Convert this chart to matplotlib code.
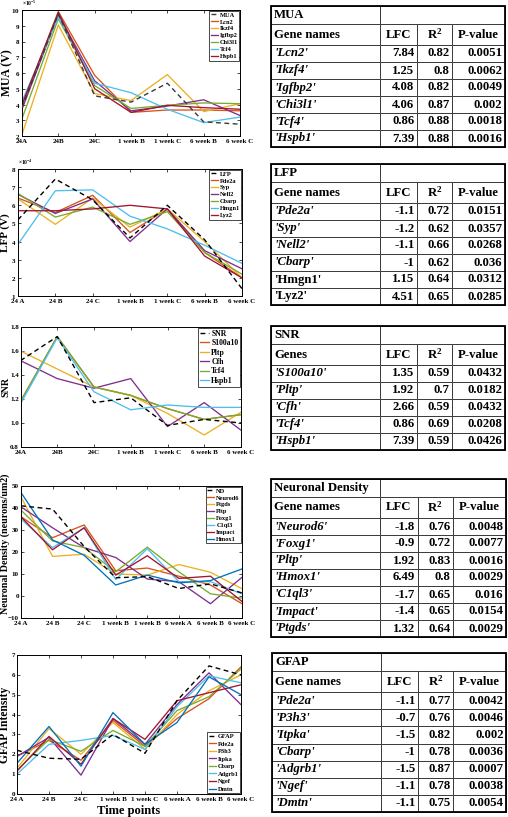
import matplotlib
matplotlib.use('Agg')
import matplotlib.pyplot as plt
from matplotlib.ticker import ScalarFormatter
from matplotlib.patches import Rectangle

plt.rcParams['font.family'] = ['Liberation Serif', 'DejaVu Serif']
plt.rcParams['font.weight'] = 'bold'
plt.rcParams['mathtext.fontset'] = 'custom'
plt.rcParams['mathtext.rm'] = 'Liberation Serif:bold'
plt.rcParams['mathtext.bf'] = 'Liberation Serif:bold'
plt.rcParams['mathtext.it'] = 'Liberation Serif:bold:italic'

# MATLAB default colours
BLUE, ORANGE, YELLOW, PURPLE = '#0072BD', '#D95319', '#EDB120', '#7E2F8E'
GREEN, CYAN, DRED = '#77AC30', '#4DBEEE', '#A2142F'

# ---------------- data : MUA (x1e-5 V) ----------------
mua_x = ['24A', '24B', '24C', '1 week B', '1 week C', '6 week B', '6 week C']
mua_names = ['MUA', 'Lcn2', 'Ikzf4', 'Igfbp2', 'Chi3l1', 'Tcf4', 'Hspb1']
mua_MUA = [3.8, 9.75, 4.55, 4.15, 5.35, 2.9, 2.75]
mua_Lcn2 = [3.9, 9.9, 5.85, 3.5, 3.65, 3.65, 3.6]
mua_Ikzf4 = [2.1, 9.05, 4.7, 4.25, 5.9, 3.55, 4.05]
mua_Igfbp2 = [3.7, 9.7, 5.5, 3.6, 3.9, 4.3, 3.3]
mua_Chi3l1 = [3.1, 9.45, 5.2, 3.75, 3.95, 4.1, 4.05]
mua_Tcf4 = [4.2, 9.55, 5.35, 4.75, 3.7, 2.85, 3.2]
mua_Hspb1 = [4.0, 9.85, 5.0, 3.5, 3.95, 3.8, 3.7]

# ---------------- data : LFP (x1e-4 V) ----------------
lfp_x = ['24 A', '24 B', '24 C', '1 week B', '1 week C', '6 week B', '6 week C']
lfp_names = ['LFP', 'Pde2a', 'Syp', 'Nell2', 'Cbarp', 'Hmgn1', 'Lyz2']
lfp_LFP = [5.2, 7.45, 6.3, 4.2, 6.0, 4.1, 1.4]
lfp_Pde2a = [6.4, 5.6, 6.55, 4.5, 5.8, 3.4, 2.0]
lfp_Syp = [6.35, 4.95, 6.4, 4.8, 5.8, 4.0, 2.0]
lfp_Nell2 = [6.6, 5.55, 6.35, 4.0, 5.8, 3.5, 2.5]
lfp_Cbarp = [6.65, 5.35, 5.9, 4.95, 5.65, 3.4, 2.2]
lfp_Hmgn1 = [3.85, 6.8, 6.85, 5.4, 4.7, 3.8, 2.8]
lfp_Lyz2 = [5.7, 5.7, 5.8, 6.0, 5.8, 3.2, 2.0]

# ---------------- data : SNR ----------------
snr_x = ['24A', '24B', '24C', '1 week B', '1 week C', '6 week B', '6 week C']
snr_names = ['SNR', 'S100a10', 'Pltp', 'Cfh', 'Tcf4', 'Hspb1']
snr_SNR = [1.52, 1.72, 1.17, 1.21, 0.98, 1.03, 1.0]
snr_S100a10 = [1.18, 1.72, 1.3, 1.23, 1.12, 1.03, 1.07]
snr_Pltp = [1.6, 1.45, 1.3, 1.23, 1.08, 0.9, 1.09]
snr_Cfh = [1.52, 1.37, 1.29, 1.37, 0.97, 1.17, 0.94]
snr_Tcf4 = [1.18, 1.72, 1.3, 1.23, 1.12, 1.03, 1.07]
snr_Hspb1 = [1.16, 1.71, 1.26, 1.11, 1.15, 1.13, 1.13]

# ---------------- data : Neuronal density ----------------
nd_x = ['24 A', '24 B', '24 C', '1 week B', '1 week B', '6 week A', '6 week B', '6 week C']
nd_names = ['ND', 'Neurod6', 'Ptgds', 'Pltp', 'Foxg1', 'C1ql3', 'Impact', 'Hmox1']
nd_ND = [41, 39.5, 22.5, 8.3, 8.8, 3.4, 5.5, 1.4]
nd_Neurod6 = [36, 26.5, 32.3, 11.5, 12.7, 9, 5, -3.5]
nd_Ptgds = [45, 18, 19, 10, 9.5, 14.3, 10.8, 3.3]
nd_Pltp = [40.5, 31, 22, 17.5, 7.7, 6.5, -3.5, 8.5]
nd_Foxg1 = [39, 25, 22, 11, 22.2, 11, 1, -1]
nd_C1ql3 = [35, 22, 31, 7.5, 21.5, 6.5, 6.5, 1]
nd_Impact = [36, 21, 31, 9.5, 18.3, 8, 9, -2.5]
nd_Hmox1 = [47, 25.5, 18.5, 5, 9.5, 6, 7, 12.3]

# ---------------- data : GFAP ----------------
gf_x = ['24 A', '24 B', '24 C', '1 week B', '1 week C', '6 week A', '6 week B', '6 week C']
gf_names = ['GFAP', 'Pde2a', 'P3h3', 'Itpka', 'Cbarp', 'Adgrb1', 'Ngef', 'Dmtn']
gf_GFAP = [2.2, 1.8, 1.75, 3.0, 2.05, 4.7, 6.45, 6.0]
gf_Pde2a = [1.9, 2.7, 1.7, 3.7, 2.4, 3.8, 4.8, 6.4]
gf_P3h3 = [1.3, 3.3, 2.0, 3.6, 2.25, 4.0, 5.2, 6.0]
gf_Itpka = [1.9, 2.85, 0.95, 3.8, 2.5, 4.5, 6.1, 4.5]
gf_Cbarp = [1.2, 2.75, 2.15, 3.2, 2.4, 4.2, 4.9, 6.3]
gf_Adgrb1 = [1.0, 2.5, 2.7, 2.95, 2.25, 4.4, 5.95, 5.6]
gf_Ngef = [1.15, 2.9, 1.5, 3.8, 2.75, 4.7, 5.1, 5.5]
gf_Dmtn = [1.55, 3.4, 1.4, 4.1, 2.5, 3.6, 5.9, 5.0]

# ---------------- table data ----------------
t_mua_genes = ['Lcn2', 'Ikzf4', 'Igfbp2', 'Chi3l1', 'Tcf4', 'Hspb1']
t_mua_lfc = [7.84, 1.25, 4.08, 4.06, 0.86, 7.39]
t_mua_r2 = [0.82, 0.8, 0.82, 0.87, 0.88, 0.88]
t_mua_p = [0.0051, 0.0062, 0.0049, 0.002, 0.0018, 0.0016]

t_lfp_genes = ['Pde2a', 'Syp', 'Nell2', 'Cbarp', 'Hmgn1', 'Lyz2']
t_lfp_lfc = [-1.1, -1.2, -1.1, -1, 1.15, 4.51]
t_lfp_r2 = [0.72, 0.62, 0.66, 0.62, 0.64, 0.65]
t_lfp_p = [0.0151, 0.0357, 0.0268, 0.036, 0.0312, 0.0285]
t_lfp_italic = [True, True, True, True, False, False]

t_snr_genes = ['S100a10', 'Pltp', 'Cfh', 'Tcf4', 'Hspb1']
t_snr_lfc = [1.35, 1.92, 2.66, 0.86, 7.39]
t_snr_r2 = [0.59, 0.7, 0.59, 0.69, 0.59]
t_snr_p = [0.0432, 0.0182, 0.0432, 0.0208, 0.0426]

t_nd_genes = ['Neurod6', 'Foxg1', 'Pltp', 'Hmox1', 'C1ql3', 'Impact', 'Ptgds']
t_nd_lfc = [-1.8, -0.9, 1.92, 6.49, -1.7, -1.4, 1.32]
t_nd_r2 = [0.76, 0.72, 0.83, 0.8, 0.65, 0.65, 0.64]
t_nd_p = [0.0048, 0.0077, 0.0016, 0.0029, 0.016, 0.0154, 0.0029]

t_gf_genes = ['Pde2a', 'P3h3', 'Itpka', 'Cbarp', 'Adgrb1', 'Ngef', 'Dmtn']
t_gf_lfc = [-1.1, -0.7, -1.5, -1, -1.5, -1.1, -1.1]
t_gf_r2 = [0.77, 0.76, 0.82, 0.78, 0.87, 0.78, 0.75]
t_gf_p = [0.0042, 0.0046, 0.002, 0.0036, 0.0007, 0.0038, 0.0054]

W, H = 508, 817
fig = plt.figure(figsize=(W / 100, H / 100), dpi=100)


def px_axes(l, t, r, b):
    return fig.add_axes([l / W, 1 - b / H, (r - l) / W, (b - t) / H])


def line_panel(box, xlabels, names, series, colors, ylim, yticks, ylabel,
               leg_loc, leg_fs, leg_sp, label_x, label_fs=8.5, label_y=0.5,
               scale=1.0, power=None, xlabel=None, dash_color='black', ypad=1.5):
    ax = px_axes(*box)
    l, t, r, b = box
    x = list(range(len(xlabels)))
    for i, (nm, ys, c) in enumerate(zip(names, series, colors)):
        vals = [v * scale for v in ys]
        if i == 0:
            ax.plot(x, vals, color=dash_color, lw=1.0, ls=(0, (3.5, 2.5)), label=nm, zorder=3)
        else:
            ax.plot(x, vals, color=c, lw=0.95, label=nm, zorder=2)
    ax.set_xlim(0, len(xlabels) - 1)
    ax.set_ylim(ylim[0] * scale, ylim[1] * scale)
    ax.set_xticks(x)
    ax.set_xticklabels(xlabels)
    ax.set_yticks([v * scale for v in yticks])
    if power is not None:
        fmt = ScalarFormatter(useMathText=True)
        fmt.set_powerlimits((power, power))
        ax.yaxis.set_major_formatter(fmt)
        ax.yaxis.get_offset_text().set_fontsize(4.0)
        ax.yaxis.get_offset_text().set_fontweight('bold')
    ax.tick_params(direction='in', top=True, right=True, length=2, width=0.5,
                   labelsize=5)
    ax.tick_params(axis='x', pad=2.5)
    ax.tick_params(axis='y', pad=ypad)
    for lab in ax.get_xticklabels() + ax.get_yticklabels():
        lab.set_fontweight('bold')
    for sp in ax.spines.values():
        sp.set_linewidth(0.7)
    ax.set_ylabel(ylabel, fontsize=label_fs, fontweight='bold')
    ax.yaxis.set_label_coords((label_x - l) / (r - l), label_y)
    if xlabel:
        ax.set_xlabel(xlabel, fontsize=9, fontweight='bold', labelpad=2.0)
    leg = ax.legend(loc=leg_loc, frameon=True, fancybox=False,
                    edgecolor='black', framealpha=1, borderaxespad=0.1,
                    handlelength=1.1, handletextpad=0.3, labelspacing=leg_sp,
                    borderpad=0.25, prop={'weight': 'bold', 'size': leg_fs})
    leg.get_frame().set_linewidth(0.5)
    return ax


line_panel((22, 10, 240, 136), mua_x, mua_names,
           [mua_MUA, mua_Lcn2, mua_Ikzf4, mua_Igfbp2, mua_Chi3l1, mua_Tcf4, mua_Hspb1],
           [None, ORANGE, YELLOW, PURPLE, GREEN, CYAN, DRED],
           (2, 10), list(range(2, 11)), 'MUA (V)', 'upper right', 4.6, 0.22,
           label_x=13.0, scale=1e-5, power=-5, dash_color='#3a3a3a')

line_panel((18, 169, 242, 296), lfp_x, lfp_names,
           [lfp_LFP, lfp_Pde2a, lfp_Syp, lfp_Nell2, lfp_Cbarp, lfp_Hmgn1, lfp_Lyz2],
           [None, ORANGE, YELLOW, PURPLE, GREEN, CYAN, DRED],
           (1, 8), list(range(1, 9)), 'LFP (V)', 'upper right', 4.6, 0.22,
           label_x=10.5, label_fs=8.0, scale=1e-4, power=-4)

line_panel((20.5, 327, 241, 447), snr_x, snr_names,
           [snr_SNR, snr_S100a10, snr_Pltp, snr_Cfh, snr_Tcf4, snr_Hspb1],
           [None, ORANGE, YELLOW, PURPLE, GREEN, CYAN],
           (0.8, 1.8), [0.8, 1.0, 1.2, 1.4, 1.6, 1.8], 'SNR', 'upper right', 5.6, 0.18,
           label_x=10.3, label_fs=7.2, ypad=1.2)

line_panel((21, 486, 242, 618), nd_x, nd_names,
           [nd_ND, nd_Neurod6, nd_Ptgds, nd_Pltp, nd_Foxg1, nd_C1ql3, nd_Impact, nd_Hmox1],
           [None, ORANGE, YELLOW, PURPLE, GREEN, CYAN, DRED, BLUE],
           (-10, 50), list(range(-10, 51, 10)), 'Neuronal Density (neurons/um2)',
           'upper right', 4.6, 0.22, label_x=10.0, label_fs=7.2, label_y=0.56)

line_panel((17, 655, 241, 794), gf_x, gf_names,
           [gf_GFAP, gf_Pde2a, gf_P3h3, gf_Itpka, gf_Cbarp, gf_Adgrb1, gf_Ngef, gf_Dmtn],
           [None, ORANGE, YELLOW, PURPLE, GREEN, CYAN, DRED, BLUE],
           (0, 7), list(range(0, 8)), 'GFAP Intensity', 'lower right', 4.6, 0.32,
           label_x=11.5, label_fs=8.3, xlabel='Time points')


def draw_table(box, title, head, genes, lfc, r2, pv, italic=None):
    l, t, r, b = box
    ax = px_axes(l, t, r, b)
    ax.axis('off')
    if italic is None:
        italic = [True] * len(genes)
    rows = [[title, '', '', ''], [head, 'LFC', 'R$^\\mathbf{2}$', 'P-value']]
    for g, a, c, p in zip(genes, lfc, r2, pv):
        rows.append(["'" + g + "'", f"{a:g}", f"{c:g}", f"{p:g}"])
    col_w = [109, 37, 35, 53]
    row_h = [18, 21] + [17] * len(genes)
    tab = ax.table(cellText=rows, bbox=[0, 0, 1, 1], cellLoc='center')
    tab.auto_set_font_size(False)
    for (i, j), cell in tab.get_celld().items():
        cell.set_width(col_w[j])
        cell.set_height(row_h[i])
        cell.set_linewidth(0.7)
        cell.set_edgecolor('#3a3a3a')
        txt = cell.get_text()
        txt.set_fontsize(9.2)
        txt.set_fontweight('bold')
        if i == 0:
            if j == 0:
                txt.set_horizontalalignment('left')
                cell.PAD = 0.03
            elif j == 1:
                cell.visible_edges = 'LTB'
            elif j == 2:
                cell.visible_edges = 'TB'
            else:
                cell.visible_edges = 'TBR'
        elif i == 1:
            if j == 0:
                txt.set_horizontalalignment('left')
                cell.PAD = 0.03
            else:
                txt.set_horizontalalignment('center')
        else:
            if j == 0:
                txt.set_horizontalalignment('left')
                cell.PAD = 0.03
                if italic[i - 2]:
                    txt.set_fontstyle('italic')
            else:
                txt.set_horizontalalignment('right')
                cell.PAD = 2.5 / col_w[j]
    ax.add_patch(Rectangle((0, 0), 1, 1, transform=ax.transAxes, fill=False,
                           lw=1.3, edgecolor='black', clip_on=False, zorder=5))


draw_table((271, 6, 505, 147), 'MUA', 'Gene names', t_mua_genes, t_mua_lfc, t_mua_r2, t_mua_p)
draw_table((271, 164, 505, 305), 'LFP', 'Gene names', t_lfp_genes, t_lfp_lfc, t_lfp_r2, t_lfp_p,
           italic=t_lfp_italic)
draw_table((271, 326, 505, 450), 'SNR', 'Genes', t_snr_genes, t_snr_lfc, t_snr_r2, t_snr_p)
draw_table((271, 479, 506, 637), 'Neuronal Density', 'Gene names', t_nd_genes, t_nd_lfc,
           t_nd_r2, t_nd_p)
draw_table((272, 653, 506, 812), 'GFAP', 'Gene names', t_gf_genes, t_gf_lfc, t_gf_r2, t_gf_p)

fig.savefig('out.png', dpi=100)
